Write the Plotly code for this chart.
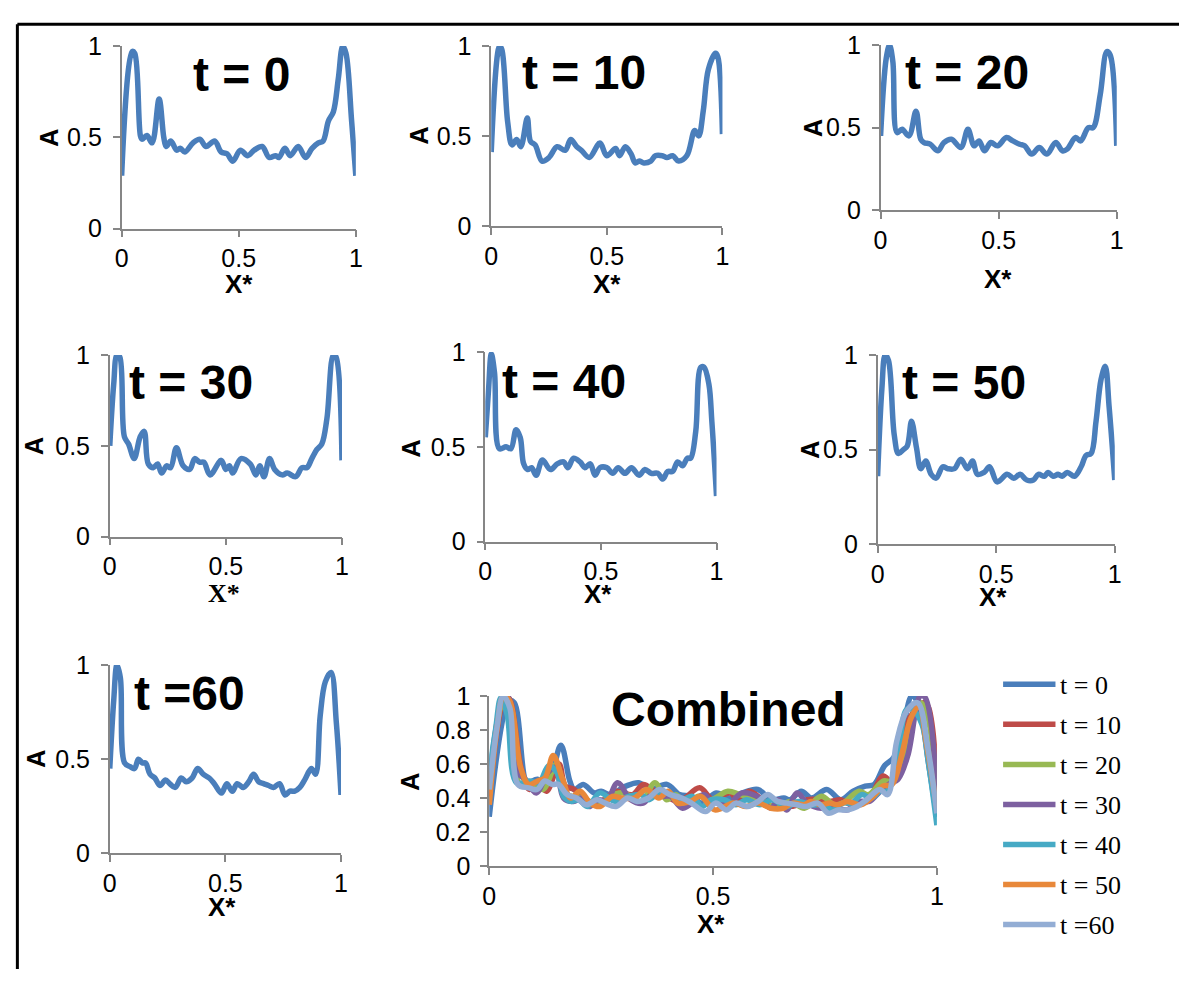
import plotly.graph_objects as go

W, H = 1186, 983

# ---------------- data ----------------
x_t0 = [0, 0.045, 0.056, 0.08, 0.087, 0.108, 0.13, 0.16, 0.18, 0.19, 0.21, 0.235, 0.25, 0.27, 0.305, 0.334, 0.36, 0.397, 0.425, 0.45, 0.475, 0.507, 0.538, 0.566, 0.6, 0.63, 0.658, 0.672, 0.697, 0.72, 0.754, 0.785, 0.813, 0.84, 0.86, 0.883, 0.904, 0.925, 0.944, 0.958, 0.982, 1.0]
a_t0 = [0.29, 0.97, 0.96, 0.51, 0.49, 0.51, 0.47, 0.71, 0.50, 0.45, 0.48, 0.43, 0.44, 0.42, 0.47, 0.49, 0.45, 0.48, 0.42, 0.41, 0.37, 0.43, 0.40, 0.43, 0.45, 0.39, 0.40, 0.39, 0.44, 0.40, 0.45, 0.39, 0.44, 0.47, 0.48, 0.59, 0.64, 0.82, 1.0, 0.96, 0.59, 0.29]

x_t10 = [0, 0.036, 0.046, 0.071, 0.09, 0.11, 0.128, 0.156, 0.17, 0.19, 0.22, 0.25, 0.285, 0.32, 0.344, 0.37, 0.39, 0.424, 0.47, 0.50, 0.538, 0.555, 0.58, 0.605, 0.623, 0.64, 0.66, 0.69, 0.71, 0.74, 0.76, 0.785, 0.81, 0.846, 0.88, 0.897, 0.917, 0.939, 0.97, 0.98, 1.0]
a_t10 = [0.41, 1.0, 0.98, 0.58, 0.45, 0.48, 0.44, 0.60, 0.47, 0.45, 0.36, 0.38, 0.44, 0.42, 0.48, 0.44, 0.42, 0.38, 0.46, 0.39, 0.43, 0.39, 0.44, 0.40, 0.35, 0.36, 0.35, 0.36, 0.39, 0.39, 0.38, 0.39, 0.36, 0.39, 0.53, 0.50, 0.64, 0.87, 0.96, 0.94, 0.51]

x_t20 = [0, 0.024, 0.038, 0.052, 0.07, 0.091, 0.12, 0.15, 0.17, 0.184, 0.21, 0.243, 0.268, 0.30, 0.34, 0.37, 0.396, 0.417, 0.44, 0.467, 0.495, 0.533, 0.56, 0.589, 0.61, 0.64, 0.672, 0.704, 0.742, 0.77, 0.79, 0.826, 0.847, 0.88, 0.90, 0.93, 0.958, 0.972, 1.0]
a_t20 = [0.45, 0.92, 1.0, 0.90, 0.47, 0.49, 0.45, 0.60, 0.43, 0.41, 0.40, 0.36, 0.41, 0.43, 0.38, 0.49, 0.39, 0.42, 0.36, 0.41, 0.39, 0.44, 0.42, 0.40, 0.39, 0.34, 0.38, 0.34, 0.41, 0.36, 0.37, 0.44, 0.42, 0.50, 0.50, 0.70, 0.96, 0.94, 0.39]

x_t30 = [0, 0.017, 0.031, 0.043, 0.063, 0.081, 0.105, 0.131, 0.148, 0.166, 0.188, 0.206, 0.223, 0.245, 0.262, 0.287, 0.316, 0.344, 0.366, 0.387, 0.405, 0.432, 0.48, 0.50, 0.515, 0.529, 0.565, 0.605, 0.629, 0.646, 0.664, 0.688, 0.71, 0.742, 0.764, 0.80, 0.828, 0.849, 0.87, 0.892, 0.913, 0.935, 0.963, 0.974, 1.0]
a_t30 = [0.50, 0.84, 1.0, 0.99, 0.55, 0.51, 0.43, 0.55, 0.58, 0.40, 0.38, 0.40, 0.35, 0.39, 0.38, 0.49, 0.39, 0.37, 0.43, 0.41, 0.41, 0.34, 0.42, 0.37, 0.39, 0.35, 0.43, 0.40, 0.34, 0.39, 0.33, 0.43, 0.37, 0.34, 0.35, 0.33, 0.38, 0.38, 0.43, 0.48, 0.51, 0.65, 1.0, 0.99, 0.42]

x_t40 = [0, 0.014, 0.026, 0.04, 0.061, 0.09, 0.111, 0.133, 0.151, 0.166, 0.183, 0.20, 0.22, 0.247, 0.282, 0.311, 0.339, 0.357, 0.382, 0.41, 0.431, 0.454, 0.475, 0.496, 0.525, 0.551, 0.575, 0.604, 0.632, 0.665, 0.69, 0.718, 0.746, 0.768, 0.789, 0.81, 0.832, 0.853, 0.874, 0.888, 0.91, 0.932, 0.946, 0.967, 0.98, 1.0]
a_t40 = [0.55, 0.80, 0.99, 0.89, 0.49, 0.50, 0.49, 0.59, 0.55, 0.41, 0.38, 0.39, 0.35, 0.43, 0.38, 0.41, 0.42, 0.39, 0.44, 0.42, 0.39, 0.41, 0.35, 0.39, 0.39, 0.36, 0.39, 0.36, 0.39, 0.35, 0.38, 0.36, 0.36, 0.33, 0.37, 0.37, 0.42, 0.40, 0.44, 0.44, 0.58, 0.92, 0.92, 0.83, 0.63, 0.24]

x_t50 = [0, 0.018, 0.032, 0.046, 0.07, 0.088, 0.108, 0.125, 0.143, 0.164, 0.182, 0.203, 0.226, 0.247, 0.275, 0.296, 0.324, 0.351, 0.379, 0.40, 0.421, 0.449, 0.472, 0.504, 0.546, 0.574, 0.601, 0.629, 0.657, 0.678, 0.703, 0.719, 0.74, 0.761, 0.778, 0.80, 0.83, 0.858, 0.879, 0.90, 0.921, 0.942, 0.96, 0.976, 1.0]
a_t50 = [0.36, 0.82, 1.0, 0.97, 0.58, 0.48, 0.50, 0.52, 0.65, 0.51, 0.40, 0.44, 0.37, 0.35, 0.41, 0.40, 0.40, 0.45, 0.40, 0.44, 0.37, 0.38, 0.41, 0.33, 0.37, 0.35, 0.37, 0.34, 0.34, 0.37, 0.36, 0.38, 0.36, 0.37, 0.36, 0.38, 0.36, 0.41, 0.47, 0.48, 0.65, 0.87, 0.94, 0.73, 0.34]

x_t60 = [0, 0.017, 0.031, 0.046, 0.064, 0.088, 0.107, 0.124, 0.141, 0.155, 0.174, 0.195, 0.217, 0.241, 0.259, 0.283, 0.309, 0.33, 0.356, 0.38, 0.404, 0.43, 0.452, 0.483, 0.506, 0.53, 0.551, 0.577, 0.601, 0.622, 0.644, 0.665, 0.687, 0.708, 0.734, 0.758, 0.779, 0.80, 0.822, 0.843, 0.872, 0.89, 0.91, 0.932, 0.957, 0.98, 1.0]
a_t60 = [0.45, 0.81, 1.0, 0.93, 0.48, 0.46, 0.45, 0.50, 0.48, 0.48, 0.42, 0.40, 0.36, 0.39, 0.37, 0.35, 0.40, 0.38, 0.40, 0.45, 0.42, 0.40, 0.37, 0.32, 0.37, 0.33, 0.37, 0.35, 0.38, 0.42, 0.38, 0.37, 0.36, 0.35, 0.37, 0.31, 0.33, 0.33, 0.35, 0.39, 0.45, 0.42, 0.73, 0.91, 0.96, 0.69, 0.31]

series_names = ["t = 0", "t = 10", "t = 20", "t = 30", "t = 40", "t = 50", "t =60"]
series_x = [x_t0, x_t10, x_t20, x_t30, x_t40, x_t50, x_t60]
series_a = [a_t0, a_t10, a_t20, a_t30, a_t40, a_t50, a_t60]
series_colors = ["#4A7EBB", "#BE4B48", "#98B954", "#7D60A0", "#46AAC5", "#E8883A", "#93ADD4"]
small_ticks = [0, 0.5, 1]
small_tick_text = ["0", "0.5", "1"]
comb_yticks = [0, 0.2, 0.4, 0.6, 0.8, 1]
comb_ytick_text = ["0", "0.2", "0.4", "0.6", "0.8", "1"]

# ---------------- layout helpers (pixels -> paper) ----------------
def px(x):
    return x / W

def py(y):
    return 1 - y / H

# panel boxes in pixels: (left, right, top, bottom)
panels = [
    (116, 353, 33, 221),
    (490, 724, 33, 218),
    (884, 1123, 32, 202),
    (104, 339, 351, 538),
    (484, 718, 348, 543),
    (881, 1121, 351, 546),
    (104, 338, 670, 864),
]
comb_box = (488, 941, 702, 877)

title_pos = [(237, 62), (584, 60), (971, 60), (186, 379), (564, 378), (968, 379), (185, 699)]
xlab_pos = [(235, 278), (607, 278), (1003, 273), (220, 597), (598, 597), (998, 600), (218, 919)]
alab_pos = [(43, 127), (417, 125), (815, 117), (28, 445), (409, 447), (813, 448), (29, 767)]

GRAY = "#868686"
TICKFONT = dict(family="Liberation Sans, Arial", size=25, color="black")
LW = 5.5
SMOOTH = 1.0

fig = go.Figure()
layout = dict(width=W, height=H, margin=dict(l=0, r=0, t=0, b=0),
              paper_bgcolor="white", plot_bgcolor="white", showlegend=False)

def axis_common():
    return dict(showline=True, linecolor=GRAY, linewidth=1.5, ticks="outside",
                ticklen=7, tickcolor=GRAY, tickwidth=1.5, showgrid=False,
                zeroline=False, tickfont=TICKFONT, fixedrange=True)

annotations = []
for i, (l, r, t, b) in enumerate(panels):
    n = i + 1
    xa = "xaxis" if n == 1 else f"xaxis{n}"
    ya = "yaxis" if n == 1 else f"yaxis{n}"
    xr = "x" if n == 1 else f"x{n}"
    yr = "y" if n == 1 else f"y{n}"
    layout[xa] = dict(axis_common(), domain=[px(l), px(r)], range=[0, 1],
                      tickvals=small_ticks, ticktext=small_tick_text, anchor=yr,
                      ticklabelstandoff=0)
    layout[ya] = dict(axis_common(), domain=[py(b), py(t)], range=[0, 1],
                      tickvals=small_ticks, ticktext=small_tick_text, anchor=xr,
                      ticklabelstandoff=6)
    fig.add_trace(go.Scatter(x=series_x[i], y=series_a[i], mode="lines",
                             line=dict(color="#4A7EBB", width=LW, shape="spline", smoothing=SMOOTH),
                             xaxis=xr, yaxis=yr, showlegend=False, hoverinfo="skip"))
    tx, ty = title_pos[i]
    annotations.append(dict(text="<b>" + series_names[i] + "</b>", x=px(tx), y=py(ty),
                            xref="paper", yref="paper", showarrow=False,
                            xanchor="center", yanchor="middle",
                            font=dict(family="Liberation Sans, Arial", size=48, color="black")))
    lx, ly = xlab_pos[i]
    fam = "Liberation Serif, Times New Roman" if n == 4 else "Liberation Sans, Arial"
    annotations.append(dict(text="<b>X*</b>", x=px(lx), y=py(ly), xref="paper", yref="paper",
                            showarrow=False, xanchor="center", yanchor="middle",
                            font=dict(family=fam, size=26, color="black")))
    ax_, ay_ = alab_pos[i]
    annotations.append(dict(text="<b>A</b>", x=px(ax_), y=py(ay_), xref="paper", yref="paper",
                            showarrow=False, xanchor="center", yanchor="middle", textangle=-90,
                            font=dict(family="Liberation Sans, Arial", size=25, color="black")))

# combined panel
l, r, t, b = comb_box
layout["xaxis8"] = dict(axis_common(), domain=[px(l), px(r)], range=[0, 1],
                        tickvals=small_ticks, ticktext=small_tick_text, anchor="y8",
                        ticklabelstandoff=0)
layout["yaxis8"] = dict(axis_common(), domain=[py(b), py(t)], range=[0, 1],
                        tickvals=comb_yticks, ticktext=comb_ytick_text, anchor="x8",
                        ticklabelstandoff=5)
for i in range(len(series_names)):
    fig.add_trace(go.Scatter(x=series_x[i], y=series_a[i], mode="lines", name=series_names[i],
                             line=dict(color=series_colors[i], width=LW, shape="spline", smoothing=SMOOTH),
                             xaxis="x8", yaxis="y8", hoverinfo="skip"))
annotations.append(dict(text="<b>Combined</b>", x=px(730), y=py(716), xref="paper", yref="paper",
                        showarrow=False, xanchor="center", yanchor="middle",
                        font=dict(family="Liberation Sans, Arial", size=48, color="black")))
annotations.append(dict(text="<b>X*</b>", x=px(712), y=py(937), xref="paper", yref="paper",
                        showarrow=False, xanchor="center", yanchor="middle",
                        font=dict(family="Liberation Sans, Arial", size=26, color="black")))
annotations.append(dict(text="<b>A</b>", x=px(408), y=py(790), xref="paper", yref="paper",
                        showarrow=False, xanchor="center", yanchor="middle", textangle=-90,
                        font=dict(family="Liberation Sans, Arial", size=25, color="black")))

# frame and legend (swatches + labels)
shapes = [
    dict(type="line", xref="paper", yref="paper", x0=px(10.5), x1=1, y0=py(10.5), y1=py(10.5),
         line=dict(color="black", width=3)),
    dict(type="line", xref="paper", yref="paper", x0=px(10.5), x1=px(10.5), y0=py(10.5), y1=0,
         line=dict(color="black", width=3)),
]
leg_top, leg_step = 690, 41.2
for i, name in enumerate(series_names):
    yy = leg_top + i * leg_step
    shapes.append(dict(type="line", xref="paper", yref="paper", x0=px(1008), x1=px(1061),
                       y0=py(yy), y1=py(yy), line=dict(color=series_colors[i], width=LW)))
    annotations.append(dict(text=name, x=px(1064), y=py(yy + 1), xref="paper", yref="paper",
                            showarrow=False, xanchor="left", yanchor="middle",
                            font=dict(family="Liberation Serif, Times New Roman", size=26, color="black")))

layout["annotations"] = annotations
layout["shapes"] = shapes
fig.update_layout(**layout)
fig.write_html("out.html")
